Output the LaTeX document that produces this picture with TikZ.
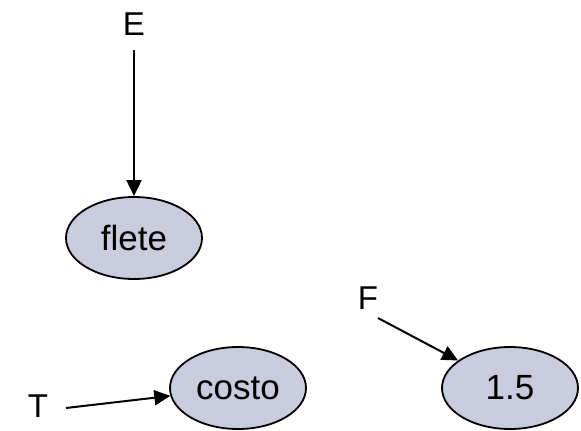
\documentclass[tikz,border=0pt]{standalone}
\usepackage{fontspec}
\setmainfont{Liberation Sans}
\usetikzlibrary{shapes.geometric,arrows.meta}
\definecolor{nodefill}{RGB}{200,204,220}
\begin{document}
\begin{tikzpicture}[x=1pt,y=-1pt,
  var/.style={ellipse,draw=black,line width=1.8pt,fill=nodefill,minimum width=136pt,minimum height=82pt,inner sep=0pt,font=\fontsize{35}{40}\selectfont},
  lbl/.style={inner sep=0pt,font=\fontsize{33}{38}\selectfont},
  conn/.style={line width=2pt,-{Triangle[length=16pt,width=15pt]}}]
\useasboundingbox (0,0) rectangle (581,431);
\node[lbl] (E) at (134,24) {E};
\node[var] (flete) at (134,238) {flete};
\node[lbl] (F) at (368,298) {F};
\node[var] (costo) at (238,388) {costo};
\node[var] (v15) at (510,388) {1.5};
\node[lbl] (T) at (38,406) {T};
\coordinate (Es) at (134,50);
\coordinate (Fs) at (378,318);
\coordinate (Ts) at (66,408);
\draw[conn] (Es) -- (flete);
\draw[conn] (Ts) -- (costo);
\draw[conn] (Fs) -- (v15);
\end{tikzpicture}
\end{document}
